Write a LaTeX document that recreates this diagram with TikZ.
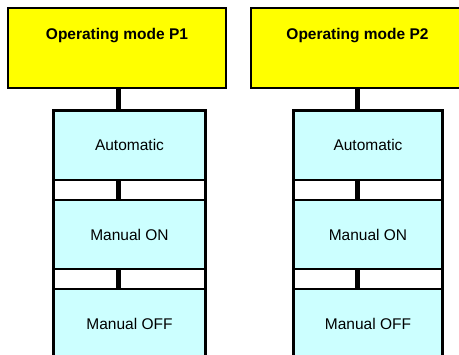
\documentclass[tikz,border=0pt]{standalone}
\usepackage{fontspec}
\setmainfont{Liberation Sans}
\definecolor{modeyellow}{RGB}{255,255,0}
\definecolor{statecyan}{RGB}{204,255,255}
\begin{document}
\begin{tikzpicture}[x=1pt,y=-1pt,
  ybox/.style={draw=black,fill=modeyellow,line width=2pt,outer sep=0pt,inner sep=0pt,anchor=north west},
  cbox/.style={draw=black,fill=statecyan,line width=2.2pt,outer sep=0pt,inner sep=0pt,anchor=north west,
    font=\fontsize{15.5}{18}\selectfont},
  title/.style={font=\fontsize{15.5}{18}\selectfont\bfseries,inner sep=0pt},
  side/.style={line width=3pt,line cap=rect},
  link/.style={line width=5pt}]
\useasboundingbox (0,0) rectangle (459,355);
\fill[white] (0,0) rectangle (459,355);
% left column
\node[ybox,minimum width=218pt,minimum height=80pt] (p1) at (8,8) {};
\node[title] (t1) at ([yshift=-28pt]p1.north) {Operating mode P1};
\node[cbox,minimum width=152pt,minimum height=69.5pt] (a1) at (53.5,110.5) {Automatic};
\node[cbox,minimum width=152pt,minimum height=69pt] (m1) at (53.5,200) {Manual ON};
\node[cbox,minimum width=152pt,minimum height=69pt] (o1) at (53.5,289) {Manual OFF};
\draw[side] (a1.north west) -- (o1.south west);
\draw[side] (a1.north east) -- (o1.south east);
\draw[link] ([xshift=1.5pt]p1.south) -- ([xshift=1.5pt]p1.south |- a1.north);
\draw[link] (a1.south -| t1.south) ++(1.5pt,0) -- ([xshift=1.5pt]m1.north -| t1.south);
\draw[link] (m1.south -| t1.south) ++(1.5pt,0) -- ([xshift=1.5pt]o1.north -| t1.south);
% right column
\node[ybox,minimum width=213pt,minimum height=80pt] (p2) at (251,8) {};
\node[title] (t2) at ([yshift=-28pt]p2.north) {Operating mode P2};
\node[cbox,minimum width=149pt,minimum height=69.5pt] (a2) at (293.5,110.5) {Automatic};
\node[cbox,minimum width=149pt,minimum height=69pt] (m2) at (293.5,200) {Manual ON};
\node[cbox,minimum width=149pt,minimum height=69pt] (o2) at (293.5,289) {Manual OFF};
\draw[side] (a2.north west) -- (o2.south west);
\draw[side] (a2.north east) -- (o2.south east);
\draw[link] (p2.south) -- (p2.south |- a2.north);
\draw[link] (a2.south -| p2.south) -- (m2.north -| p2.south);
\draw[link] (m2.south -| p2.south) -- (o2.north -| p2.south);
\end{tikzpicture}
\end{document}
